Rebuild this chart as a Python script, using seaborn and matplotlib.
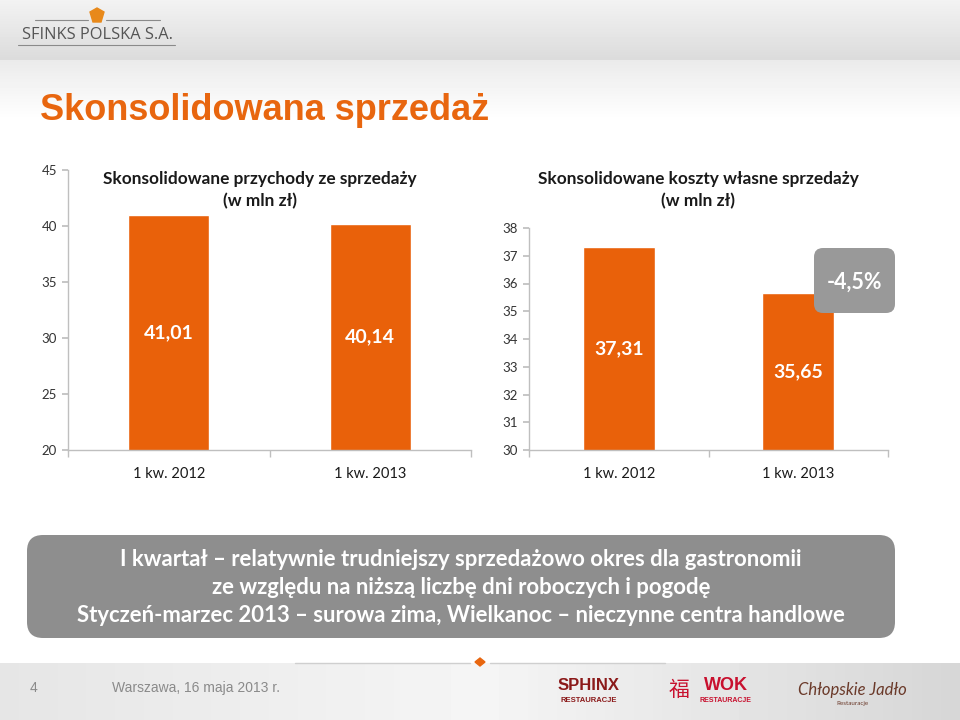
import numpy as np
import pandas as pd
import seaborn as sns
import matplotlib.pyplot as plt
from matplotlib.patches import FancyBboxPatch, Polygon

# dane z wykresu
categories = ["1 kw. 2012", "1 kw. 2013"]
przychody = [41.01, 40.14]
koszty = [37.31, 35.65]
przychody_labels = ["41,01", "40,14"]
koszty_labels = ["37,31", "35,65"]
zmiana_label = "-4,5%"
przychody_ticks = [20, 25, 30, 35, 40, 45]
koszty_ticks = [30, 31, 32, 33, 34, 35, 36, 37, 38]

title_main = "Skonsolidowana sprzedaż"
title_left = "Skonsolidowane przychody ze sprzedaży\n(w mln zł)"
title_right = "Skonsolidowane koszty własne sprzedaży\n(w mln zł)"
note_lines = [
    "I kwartał – relatywnie trudniejszy sprzedażowo okres dla gastronomii",
    "ze względu na niższą liczbę dni roboczych i pogodę",
    "Styczeń-marzec 2013 – surowa zima, Wielkanoc – nieczynne centra handlowe",
]

ORANGE = "#E9610A"
TITLE_ORANGE = "#E8660F"
GREY_BOX = "#8E8E8E"
AXIS_GREY = "#BFBFBF"

sns.set_theme(style="white")
plt.rcParams["font.family"] = ["Lato", "DejaVu Sans"]

fig = plt.figure(figsize=(9.6, 7.2), dpi=100)

# tło w pikselach (0..960 x 0..720, oś y w dół)
bg = fig.add_axes([0, 0, 1, 1], zorder=0)
bg.set_xlim(0, 960)
bg.set_ylim(720, 0)
bg.axis("off")

# nagłówek - szary gradient
head = np.linspace(0.95, 0.86, 60).reshape(-1, 1)
bg.imshow(np.repeat(head, 2, axis=1), cmap="gray", vmin=0, vmax=1,
          extent=(0, 960, 60, 0), aspect="auto", zorder=0)
soft = np.linspace(0.92, 1.0, 60).reshape(-1, 1)
bg.imshow(np.repeat(soft, 2, axis=1), cmap="gray", vmin=0, vmax=1,
          extent=(0, 960, 120, 60), aspect="auto", zorder=0)

# stopka - gradient
foot = np.concatenate([np.linspace(0.90, 0.96, 50), np.linspace(0.96, 0.84, 50)]).reshape(1, -1)
bg.imshow(foot, cmap="gray", vmin=0, vmax=1, extent=(0, 960, 720, 663),
          aspect="auto", zorder=0)
bg.plot([295, 470], [663, 663], color="#CFCFCF", lw=1, zorder=1)
bg.plot([490, 665], [663, 663], color="#CFCFCF", lw=1, zorder=1)
bg.add_patch(Polygon([[480, 658], [485, 662], [480, 666], [475, 662]],
                     closed=True, color=TITLE_ORANGE, zorder=2))

# logo SFINKS
bg.plot([35, 88], [20, 20], color="#8A8A8A", lw=0.8)
bg.plot([106, 160], [20, 20], color="#8A8A8A", lw=0.8)
bg.plot([18, 175], [45, 45], color="#8A8A8A", lw=0.8)
bg.add_patch(Polygon([[90, 12], [97, 8], [104, 12], [101, 22], [93, 22]],
                     closed=True, color="#E8891A"))
bg.text(22, 35, "SFINKS POLSKA S.A.", fontsize=11.8, color="#555555",
        family="Open Sans", va="center", ha="left")

# tytuł
bg.text(40, 110, title_main, fontsize=26, fontweight="bold", color=TITLE_ORANGE,
        family="Liberation Sans", va="center", ha="left")

# tytuły wykresów
bg.text(260, 190, title_left, fontsize=12.4, fontweight="bold", color="#1A1A1A",
        ha="center", va="center", linespacing=1.45)
bg.text(698, 190, title_right, fontsize=12.4, fontweight="bold", color="#1A1A1A",
        ha="center", va="center", linespacing=1.45)

# wykres lewy
df_p = pd.DataFrame({"okres": categories, "wartosc": przychody})
ax1 = fig.add_axes([68 / 960, 1 - 450 / 720, 403 / 960, 280 / 720], zorder=2)
sns.barplot(data=df_p, x="okres", y="wartosc", color=ORANGE, saturation=1,
            width=0.4, ax=ax1)
ax1.set_ylim(20, 45)
ax1.set_yticks(przychody_ticks)
ax1.set_xlim(-0.5, 1.5)
for i, (v, lab) in enumerate(zip(przychody, przychody_labels)):
    ax1.text(i, (20 + v) / 2, lab, ha="center", va="center", color="white",
             fontsize=14, fontweight="bold")

# wykres prawy
df_k = pd.DataFrame({"okres": categories, "wartosc": koszty})
ax2 = fig.add_axes([529 / 960, 1 - 450 / 720, 359 / 960, 222 / 720], zorder=2)
sns.barplot(data=df_k, x="okres", y="wartosc", color=ORANGE, saturation=1,
            width=0.4, ax=ax2)
ax2.set_ylim(30, 38)
ax2.set_yticks(koszty_ticks)
ax2.set_xlim(-0.5, 1.5)
for i, (v, lab) in enumerate(zip(koszty, koszty_labels)):
    ax2.text(i, (30 + v) / 2, lab, ha="center", va="center", color="white",
             fontsize=14, fontweight="bold")

for ax in (ax1, ax2):
    ax.set_facecolor("none")
    ax.set_xlabel("")
    ax.set_ylabel("")
    sns.despine(ax=ax)
    for s in ("left", "bottom"):
        ax.spines[s].set_color(AXIS_GREY)
        ax.spines[s].set_linewidth(1)
    ax.set_xticks([-0.5, 0.5, 1.5], minor=True)
    ax.tick_params(axis="x", which="major", length=0, labelsize=10.5,
                   labelcolor="#1A1A1A", pad=12)
    ax.tick_params(axis="x", which="minor", length=5, color=AXIS_GREY,
                   direction="out", bottom=True)
    ax.tick_params(axis="y", length=4, color=AXIS_GREY, direction="out",
                   labelsize=9.5, labelcolor="#333333", left=True, pad=4)

# warstwa z ramkami
box_ax = fig.add_axes([0, 0, 1, 1], zorder=3)
box_ax.set_xlim(0, 960)
box_ax.set_ylim(720, 0)
box_ax.axis("off")

# ramka -4,5%
box_ax.add_patch(FancyBboxPatch((814, 248), 81, 65, boxstyle="round,pad=0,rounding_size=9",
                                facecolor="#999999", edgecolor="none"))
box_ax.text(855, 282, zmiana_label, ha="center", va="center", color="white",
            fontsize=15.5, fontweight="bold")

# dolna ramka z komentarzem
box_ax.add_patch(FancyBboxPatch((27, 535), 868, 103, boxstyle="round,pad=0,rounding_size=16",
                                facecolor=GREY_BOX, edgecolor="none"))
for y, line in zip([559, 587, 615], note_lines):
    box_ax.text(461, y, line, ha="center", va="center", color="white",
                fontsize=15.9, fontweight="bold")

# stopka tekst
box_ax.text(34, 688, "4", fontsize=10, color="#8A8A8A", family="Liberation Sans",
            va="center", ha="center")
box_ax.text(112, 688, "Warszawa, 16 maja 2013 r.", fontsize=10, color="#8A8A8A",
            family="Liberation Sans", va="center", ha="left")

# logotypy
box_ax.text(589, 686, "SPHINX", fontsize=12, fontweight="bold", color="#8B1A1A",
            family="Liberation Sans", ha="center", va="center")
box_ax.text(589, 701, "RESTAURACJE", fontsize=5.5, fontweight="bold", color="#8B1A1A",
            family="Liberation Sans", ha="center", va="center")
box_ax.text(679, 690, "福", fontsize=15, color="#C8102E",
            family=["Noto Sans CJK SC", "DejaVu Sans"], ha="center", va="center")
box_ax.text(726, 686, "WOK", fontsize=13, fontweight="bold", color="#C8102E",
            family="Liberation Sans", ha="center", va="center")
box_ax.text(726, 701, "RESTAURACJE", fontsize=5, fontweight="bold", color="#C8102E",
            family="Liberation Sans", ha="center", va="center")
box_ax.text(852, 690, "Chłopskie Jadło", fontsize=12, color="#6B3A2A",
            family="Lato", ha="center", va="center", style="italic")
box_ax.text(852, 704, "Restauracje", fontsize=4.5, color="#6B3A2A",
            family="Lato", ha="center", va="center")

fig.savefig("out.png", dpi=100)
